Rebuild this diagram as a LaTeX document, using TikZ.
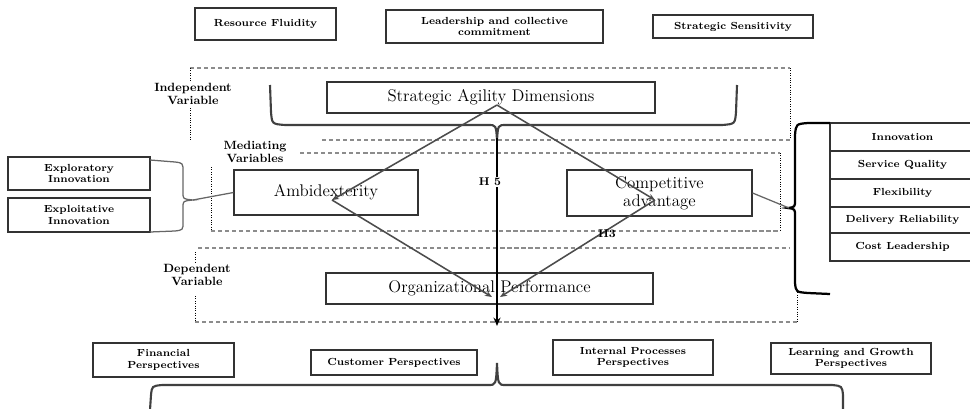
\documentclass[tikz,border=0pt]{standalone}
\usepackage{tikz}
\usetikzlibrary{arrows.meta, calc, positioning}
\newlength\pxu
\setlength\pxu{0.025cm}

\begin{document}
\begin{tikzpicture}[
  x=0.025cm, y=-0.025cm,
  smallbox/.style={rectangle, draw=black!80, line width=0.8pt, inner sep=1pt, align=center, font=\fontsize{7.3}{8}\selectfont\bfseries},
  bigbox/.style={rectangle, draw=black!80, line width=0.8pt, inner sep=1pt, align=center, font=\fontsize{12}{12.5}\selectfont},
  varlabel/.style={align=center, inner sep=1pt, font=\fontsize{8.5}{9}\selectfont\bfseries},
  frameline/.style={densely dashed, black!45, line width=1pt},
  frameside/.style={densely dotted, black, line width=0.7pt},
  hyparrow/.style={-{Stealth[length=5pt, width=4pt]}, line width=1.1pt, black!70},
  link/.style={line width=0.9pt, black!60},
  brace/.style={line width=1.5pt, black!75},
]
\useasboundingbox (0,0) rectangle (970,408);

% Top dimensions
\node[smallbox, minimum width=141\pxu, minimum height=32\pxu] (resfluid) at (265.5,24) {Resource Fluidity};
\node[smallbox, minimum width=217\pxu, minimum height=33\pxu] (leadership) at (494.5,26.5) {Leadership and collective\\commitment};
\node[smallbox, minimum width=160\pxu, minimum height=23\pxu] (sensitivity) at (733,26.5) {Strategic Sensitivity};

% Main boxes
\node[bigbox, minimum width=328\pxu, minimum height=31\pxu] (agility) at (491,97.5) {Strategic Agility Dimensions};
\node[bigbox, minimum width=184\pxu, minimum height=45\pxu] (ambidex) at (326,192.5) {Ambidexterity};
\node[bigbox, minimum width=185\pxu, minimum height=46\pxu] (compadv) at (659.5,193) {Competitive\\advantage};
\node[bigbox, minimum width=327\pxu, minimum height=31\pxu] (orgperf) at (489.5,288.5) {Organizational Performance};

% Variable labels
\node[varlabel] (indeplbl) at (193,94) {Independent\\Variable};
\node[varlabel] (medlbl) at (255,152) {Mediating\\Variables};
\node[varlabel] (deplbl) at (197,275) {Dependent\\Variable};

% Ambidexterity types
\node[smallbox, minimum width=142\pxu, minimum height=33\pxu] (explor) at (79,173.5) {Exploratory\\Innovation};
\node[smallbox, minimum width=142\pxu, minimum height=34\pxu] (exploit) at (79,215) {Exploitative\\Innovation};

% Competitive advantage dimensions
\node[smallbox, minimum width=145\pxu, minimum height=28\pxu, outer sep=0pt] (innov) at (902.5,137) {Innovation};
\node[smallbox, minimum width=145\pxu, minimum height=28\pxu, outer sep=0pt, below=0pt of innov] (servq) {Service Quality};
\node[smallbox, minimum width=145\pxu, minimum height=28\pxu, outer sep=0pt, below=0pt of servq] (flex) {Flexibility};
\node[smallbox, minimum width=145\pxu, minimum height=26\pxu, outer sep=0pt, below=0pt of flex] (delrel) {Delivery Reliability};
\node[smallbox, minimum width=145\pxu, minimum height=28\pxu, outer sep=0pt, below=0pt of delrel] (costlead) {Cost Leadership};

% Performance perspectives
\node[smallbox, minimum width=141\pxu, minimum height=34\pxu] (financial) at (163.5,360) {Financial\\Perspectives};
\node[smallbox, minimum width=166\pxu, minimum height=25\pxu] (customer) at (394,362.5) {Customer Perspectives};
\node[smallbox, minimum width=160\pxu, minimum height=35\pxu] (internal) at (633,357.5) {Internal Processes\\Perspectives};
\node[smallbox, minimum width=160\pxu, minimum height=31\pxu] (learning) at (851,358.5) {Learning and Growth\\Perspectives};

% Dashed frames
\draw[frameline] (190,68) -- (790,68);
\draw[frameside] (190,68) -- (190,82);
\draw[frameside] (190,108) -- (190,140);
\draw[frameside] (790,68) -- (790,138);
\draw[frameline] (322,140) -- (790,140);
\draw[frameline] (300,153) -- (780,153);
\draw[frameside] (211,167) -- (211,231);
\draw[frameside] (780,153) -- (780,231);
\draw[frameline] (211,231) -- (780,231);
\draw[frameline] (198,248) -- (790,248);
\draw[frameside] (195,252) -- (195,262);
\draw[frameside] (195,296) -- (195,322);
\draw[frameline] (195,322) -- (797,322);
\draw[frameside] (797,290) -- (797,322);

% Braces
\draw[brace] (270,85) -- (271,112) .. controls (272,124) .. (285,125) -- (488,125)
  .. controls (496,125) .. (497,140) .. controls (498,125) .. (506,125) -- (722,125)
  .. controls (735,124) .. (736,112) -- (737,85);
\draw[brace] (150,410) -- (151,395) .. controls (152,386) .. (162,385) -- (488,385)
  .. controls (496,385) .. (497,363) .. controls (498,385) .. (506,385) -- (832,385)
  .. controls (842,386) .. (843,395) -- (843,410);
\draw[brace, black, line width=1.6pt] (830,123) -- (808,123) .. controls (796,124) .. (795,135) -- (795,200)
  .. controls (795,207) .. (788,208) .. controls (795,209) .. (795,216) -- (795,283)
  .. controls (796,292) .. (808,293) -- (830,294);
\draw[link] (150,160) -- (175,162) .. controls (183,163) .. (183,172) -- (183,193)
  .. controls (183,199) .. (193,200) .. controls (183,201) .. (183,207) -- (183,222)
  .. controls (183,230) .. (175,231) -- (150,232);
\coordinate (lbracetip) at (193,200);
\coordinate (rbracetip) at (789,208);
\draw[link] (lbracetip) -- (ambidex.west);
\draw[link] (compadv.east) -- (rbracetip);

% Hypothesis paths
\coordinate (apex) at (497,105);
\coordinate (ambtip) at (332,200);
\coordinate (comptip) at (655,200);
\coordinate (orgtipl) at (492,297);
\coordinate (orgtipr) at (500,297);
\draw[hyparrow] (apex) -- (ambtip);
\draw[hyparrow] (apex) -- (comptip);
\draw[hyparrow] (ambtip) -- (orgtipl);
\draw[hyparrow] (comptip) -- (orgtipr);

\coordinate (agiltip) at (497,138);
\coordinate (perfend) at (497,326);
\draw[-{Stealth[length=6pt, width=5pt]}, line width=1.5pt, black] (agiltip) -- (perfend);
\node[fill=white, inner sep=1pt, font=\fontsize{8}{9}\selectfont\bfseries] (hfive) at (490,182) {H 5};
\node[inner sep=0pt, font=\fontsize{8}{9}\selectfont\bfseries] (hthree) at (607,234) {H3};
\end{tikzpicture}
\end{document}
